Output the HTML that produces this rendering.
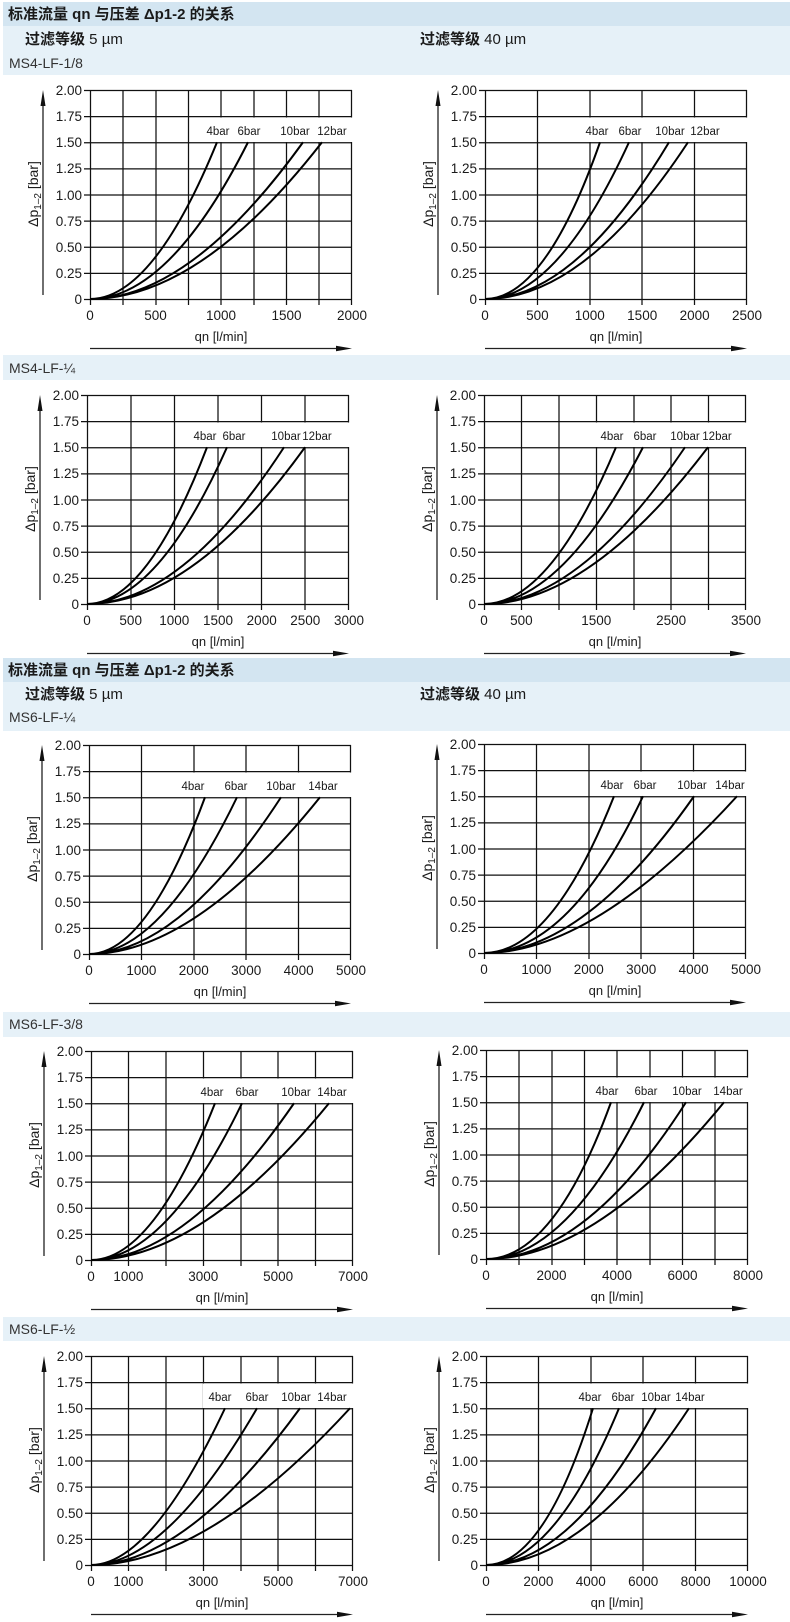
<!DOCTYPE html>
<html><head><meta charset="utf-8">
<style>
html,body{margin:0;padding:0;background:#fff;}
svg{display:block;}
text{font-family:"Liberation Sans","Noto Sans CJK SC",sans-serif;fill:#1a1a1a;}
.yl text{font-size:13.5px;text-anchor:end;}
.xl text{font-size:13.5px;text-anchor:middle;}
.ql{font-size:13px;text-anchor:middle;}
.bl{font-size:11.5px;text-anchor:middle;}
.c{fill:none;stroke:#000;stroke-width:2;}
.grid{fill:none;stroke:#111;stroke-width:1.25;}
.h1{font-size:15px;font-weight:bold;}
.h2{font-size:15px;}
.h3{font-size:14px;fill:#333;}
</style></head>
<body>
<svg width="790" height="1622" viewBox="0 0 790 1622" xmlns="http://www.w3.org/2000/svg">
<defs>
<path id="hz" class="grid" d="M-6 0.5H262M-6 26.6H262M-6 52.75H262M-6 78.9H262M-6 105H262M-6 131.1H262M-6 157.25H262M-6 183.4H262M-6 209.5H262"/>
<g id="g8"><use href="#hz"/><path class="grid" d="M0.5 0V215M33 0V215M66 0V215M98.5 0V215M131 0V215M164 0V215M196.5 0V215M229 0V215M261.5 0V215"/></g>
<g id="g5"><use href="#hz"/><path class="grid" d="M0.5 0V215M52.5 0V215M105 0V215M157 0V215M209.5 0V215M261.5 0V215"/></g>
<g id="g6"><use href="#hz"/><path class="grid" d="M0.5 0V215M44 0V215M87.5 0V215M131 0V215M174.5 0V215M218 0V215M261.5 0V215"/></g>
<g id="g7"><use href="#hz"/><path class="grid" d="M0.5 0V215M37.5 0V215M75 0V215M112.5 0V215M150 0V215M187 0V215M224.5 0V215M261.5 0V215"/></g>
<g id="ax">
<path d="M-47 205V8M0 258.5H250" stroke="#222" stroke-width="1.3" fill="none"/>
<path d="M-47 0L-49.5 16H-44.5Z" fill="#111"/>
<path d="M262 258.5L246 255.8V261.2Z" fill="#111"/>
</g>
</defs>

<rect x="3" y="2" width="787" height="24" fill="#d3e5f1"/>
<rect x="3" y="26" width="787" height="49" fill="#e6f1f8"/>
<text class="h1" x="8" y="19">标准流量 qn 与压差 Δp1-2 的关系</text>
<text class="h2" x="25" y="44"><tspan font-weight="bold">过滤等级</tspan> 5 µm</text>
<text class="h2" x="420" y="44"><tspan font-weight="bold">过滤等级</tspan> 40 µm</text>
<text class="h3" x="9" y="68">MS4-LF-1/8</text>

<rect x="3" y="355" width="787" height="25" fill="#e6f1f8"/>
<text class="h3" x="9" y="373">MS4-LF-¼</text>

<rect x="3" y="658" width="787" height="24" fill="#d3e5f1"/>
<rect x="3" y="682" width="787" height="49" fill="#e6f1f8"/>
<text class="h1" x="8" y="675">标准流量 qn 与压差 Δp1-2 的关系</text>
<text class="h2" x="25" y="699"><tspan font-weight="bold">过滤等级</tspan> 5 µm</text>
<text class="h2" x="420" y="699"><tspan font-weight="bold">过滤等级</tspan> 40 µm</text>
<text class="h3" x="9" y="722">MS6-LF-¼</text>

<rect x="3" y="1012" width="787" height="25" fill="#e6f1f8"/>
<text class="h3" x="9" y="1029">MS6-LF-3/8</text>

<rect x="3" y="1317" width="787" height="24" fill="#e6f1f8"/>
<text class="h3" x="9" y="1334">MS6-LF-½</text>

<g transform="translate(90,90)">
<use href="#g8"/><rect x="100" y="27.5" width="164" height="24.5" fill="#fff"/>
<g class="yl"><text x="-8" y="5">2.00</text><text x="-8" y="31">1.75</text><text x="-8" y="57">1.50</text><text x="-8" y="83">1.25</text><text x="-8" y="110">1.00</text><text x="-8" y="136">0.75</text><text x="-8" y="162">0.50</text><text x="-8" y="188">0.25</text><text x="-8" y="214">0</text></g>
<g class="xl"><text x="0" y="230">0</text><text x="65.5" y="230">500</text><text x="131" y="230">1000</text><text x="196.5" y="230">1500</text><text x="262" y="230">2000</text></g>
<text class="ql" x="131" y="251">qn [l/min]</text>
<use href="#ax"/>
<text transform="translate(-52,104) rotate(-90)" text-anchor="middle" font-size="14">Δp<tspan font-size="10" dy="3">1–2</tspan><tspan dy="-3"> [bar]</tspan></text>
<path class="c" d="M0 209Q63 209 127 52.25M0 209Q79 209 158 52.25M0 209Q100 209 213 52.25M0 209Q110 209 232 52.25"/>
<text class="bl" x="128" y="45">4bar</text><text class="bl" x="159" y="45">6bar</text><text class="bl" x="205" y="45">10bar</text><text class="bl" x="242" y="45">12bar</text>
</g>

<g transform="translate(485,90)">
<use href="#g5"/><rect x="96" y="27.5" width="168" height="24.5" fill="#fff"/>
<g class="yl"><text x="-8" y="5">2.00</text><text x="-8" y="31">1.75</text><text x="-8" y="57">1.50</text><text x="-8" y="83">1.25</text><text x="-8" y="110">1.00</text><text x="-8" y="136">0.75</text><text x="-8" y="162">0.50</text><text x="-8" y="188">0.25</text><text x="-8" y="214">0</text></g>
<g class="xl"><text x="0" y="230">0</text><text x="52.4" y="230">500</text><text x="104.8" y="230">1000</text><text x="157.2" y="230">1500</text><text x="209.6" y="230">2000</text><text x="262" y="230">2500</text></g>
<text class="ql" x="131" y="251">qn [l/min]</text>
<use href="#ax"/>
<text transform="translate(-52,104) rotate(-90)" text-anchor="middle" font-size="14">Δp<tspan font-size="10" dy="3">1–2</tspan><tspan dy="-3"> [bar]</tspan></text>
<path class="c" d="M0 209Q60 209 115 52.25M0 209Q72 209 144 52.25M0 209Q90 209 184 52.25M0 209Q100 209 203 52.25"/>
<text class="bl" x="112" y="45">4bar</text><text class="bl" x="145" y="45">6bar</text><text class="bl" x="185" y="45">10bar</text><text class="bl" x="220" y="45">12bar</text>
</g>

<g transform="translate(87,395)">
<use href="#g6"/><rect x="100" y="27.5" width="164" height="24.5" fill="#fff"/>
<g class="yl"><text x="-8" y="5">2.00</text><text x="-8" y="31">1.75</text><text x="-8" y="57">1.50</text><text x="-8" y="83">1.25</text><text x="-8" y="110">1.00</text><text x="-8" y="136">0.75</text><text x="-8" y="162">0.50</text><text x="-8" y="188">0.25</text><text x="-8" y="214">0</text></g>
<g class="xl"><text x="0" y="230">0</text><text x="43.7" y="230">500</text><text x="87.3" y="230">1000</text><text x="131" y="230">1500</text><text x="174.7" y="230">2000</text><text x="218.3" y="230">2500</text><text x="262" y="230">3000</text></g>
<text class="ql" x="131" y="251">qn [l/min]</text>
<use href="#ax"/>
<text transform="translate(-52,104) rotate(-90)" text-anchor="middle" font-size="14">Δp<tspan font-size="10" dy="3">1–2</tspan><tspan dy="-3"> [bar]</tspan></text>
<path class="c" d="M0 209Q60 209 120 52.25M0 209Q70 209 140 52.25M0 209Q95 209 197 52.25M0 209Q105 209 218 52.25"/>
<text class="bl" x="118" y="45">4bar</text><text class="bl" x="147" y="45">6bar</text><text class="bl" x="199" y="45">10bar</text><text class="bl" x="230" y="45">12bar</text>
</g>

<g transform="translate(484,395)">
<use href="#g7"/><rect x="110" y="27.5" width="154" height="24.5" fill="#fff"/>
<g class="yl"><text x="-8" y="5">2.00</text><text x="-8" y="31">1.75</text><text x="-8" y="57">1.50</text><text x="-8" y="83">1.25</text><text x="-8" y="110">1.00</text><text x="-8" y="136">0.75</text><text x="-8" y="162">0.50</text><text x="-8" y="188">0.25</text><text x="-8" y="214">0</text></g>
<g class="xl"><text x="0" y="230">0</text><text x="37.4" y="230">500</text><text x="112.3" y="230">1500</text><text x="187.1" y="230">2500</text><text x="262" y="230">3500</text></g>
<text class="ql" x="131" y="251">qn [l/min]</text>
<use href="#ax"/>
<text transform="translate(-52,104) rotate(-90)" text-anchor="middle" font-size="14">Δp<tspan font-size="10" dy="3">1–2</tspan><tspan dy="-3"> [bar]</tspan></text>
<path class="c" d="M0 209Q66 209 132 52.25M0 209Q78 209 159 52.25M0 209Q95 209 201 52.25M0 209Q105 209 224 52.25"/>
<text class="bl" x="128" y="45">4bar</text><text class="bl" x="161" y="45">6bar</text><text class="bl" x="201" y="45">10bar</text><text class="bl" x="233" y="45">12bar</text>
</g>

<g transform="translate(89,745)">
<use href="#g5"/><rect x="86" y="27.5" width="178" height="24.5" fill="#fff"/>
<g class="yl"><text x="-8" y="5">2.00</text><text x="-8" y="31">1.75</text><text x="-8" y="57">1.50</text><text x="-8" y="83">1.25</text><text x="-8" y="110">1.00</text><text x="-8" y="136">0.75</text><text x="-8" y="162">0.50</text><text x="-8" y="188">0.25</text><text x="-8" y="214">0</text></g>
<g class="xl"><text x="0" y="230">0</text><text x="52.4" y="230">1000</text><text x="104.8" y="230">2000</text><text x="157.2" y="230">3000</text><text x="209.6" y="230">4000</text><text x="262" y="230">5000</text></g>
<text class="ql" x="131" y="251">qn [l/min]</text>
<use href="#ax"/>
<text transform="translate(-52,104) rotate(-90)" text-anchor="middle" font-size="14">Δp<tspan font-size="10" dy="3">1–2</tspan><tspan dy="-3"> [bar]</tspan></text>
<path class="c" d="M0 209Q58 209 116 52.25M0 209Q72 209 148 52.25M0 209Q90 209 192 52.25M0 209Q105 209 231 52.25"/>
<text class="bl" x="104" y="45">4bar</text><text class="bl" x="147" y="45">6bar</text><text class="bl" x="192" y="45">10bar</text><text class="bl" x="234" y="45">14bar</text>
</g>

<g transform="translate(484,744)">
<use href="#g5"/><rect x="112" y="27.5" width="152" height="24.5" fill="#fff"/>
<g class="yl"><text x="-8" y="5">2.00</text><text x="-8" y="31">1.75</text><text x="-8" y="57">1.50</text><text x="-8" y="83">1.25</text><text x="-8" y="110">1.00</text><text x="-8" y="136">0.75</text><text x="-8" y="162">0.50</text><text x="-8" y="188">0.25</text><text x="-8" y="214">0</text></g>
<g class="xl"><text x="0" y="230">0</text><text x="52.4" y="230">1000</text><text x="104.8" y="230">2000</text><text x="157.2" y="230">3000</text><text x="209.6" y="230">4000</text><text x="262" y="230">5000</text></g>
<text class="ql" x="131" y="251">qn [l/min]</text>
<use href="#ax"/>
<text transform="translate(-52,104) rotate(-90)" text-anchor="middle" font-size="14">Δp<tspan font-size="10" dy="3">1–2</tspan><tspan dy="-3"> [bar]</tspan></text>
<path class="c" d="M0 209Q68 209 130 52.25M0 209Q85 209 159 52.25M0 209Q100 209 210 52.25M0 209Q110 209 253 52.25"/>
<text class="bl" x="128" y="45">4bar</text><text class="bl" x="161" y="45">6bar</text><text class="bl" x="208" y="45">10bar</text><text class="bl" x="246" y="45">14bar</text>
</g>

<g transform="translate(91,1051)">
<use href="#g7"/><rect x="104" y="27.5" width="160" height="24.5" fill="#fff"/>
<g class="yl"><text x="-8" y="5">2.00</text><text x="-8" y="31">1.75</text><text x="-8" y="57">1.50</text><text x="-8" y="83">1.25</text><text x="-8" y="110">1.00</text><text x="-8" y="136">0.75</text><text x="-8" y="162">0.50</text><text x="-8" y="188">0.25</text><text x="-8" y="214">0</text></g>
<g class="xl"><text x="0" y="230">0</text><text x="37.4" y="230">1000</text><text x="112.3" y="230">3000</text><text x="187.1" y="230">5000</text><text x="262" y="230">7000</text></g>
<text class="ql" x="131" y="251">qn [l/min]</text>
<use href="#ax"/>
<text transform="translate(-52,104) rotate(-90)" text-anchor="middle" font-size="14">Δp<tspan font-size="10" dy="3">1–2</tspan><tspan dy="-3"> [bar]</tspan></text>
<path class="c" d="M0 209Q62 209 124 52.25M0 209Q75 209 151 52.25M0 209Q95 209 203 52.25M0 209Q110 209 238 52.25"/>
<text class="bl" x="121" y="45">4bar</text><text class="bl" x="156" y="45">6bar</text><text class="bl" x="205" y="45">10bar</text><text class="bl" x="241" y="45">14bar</text>
</g>

<g transform="translate(486,1050)">
<use href="#g8"/><rect x="104" y="27.5" width="160" height="24.5" fill="#fff"/>
<g class="yl"><text x="-8" y="5">2.00</text><text x="-8" y="31">1.75</text><text x="-8" y="57">1.50</text><text x="-8" y="83">1.25</text><text x="-8" y="110">1.00</text><text x="-8" y="136">0.75</text><text x="-8" y="162">0.50</text><text x="-8" y="188">0.25</text><text x="-8" y="214">0</text></g>
<g class="xl"><text x="0" y="230">0</text><text x="65.5" y="230">2000</text><text x="131" y="230">4000</text><text x="196.5" y="230">6000</text><text x="262" y="230">8000</text></g>
<text class="ql" x="131" y="251">qn [l/min]</text>
<use href="#ax"/>
<text transform="translate(-52,104) rotate(-90)" text-anchor="middle" font-size="14">Δp<tspan font-size="10" dy="3">1–2</tspan><tspan dy="-3"> [bar]</tspan></text>
<path class="c" d="M0 209Q68 209 125 52.25M0 209Q80 209 158 52.25M0 209Q100 209 200 52.25M0 209Q110 209 238 52.25"/>
<text class="bl" x="121" y="45">4bar</text><text class="bl" x="160" y="45">6bar</text><text class="bl" x="201" y="45">10bar</text><text class="bl" x="242" y="45">14bar</text>
</g>

<g transform="translate(91,1356)">
<use href="#g7"/><rect x="112" y="27.5" width="152" height="24.5" fill="#fff"/>
<g class="yl"><text x="-8" y="5">2.00</text><text x="-8" y="31">1.75</text><text x="-8" y="57">1.50</text><text x="-8" y="83">1.25</text><text x="-8" y="110">1.00</text><text x="-8" y="136">0.75</text><text x="-8" y="162">0.50</text><text x="-8" y="188">0.25</text><text x="-8" y="214">0</text></g>
<g class="xl"><text x="0" y="230">0</text><text x="37.4" y="230">1000</text><text x="112.3" y="230">3000</text><text x="187.1" y="230">5000</text><text x="262" y="230">7000</text></g>
<text class="ql" x="131" y="251">qn [l/min]</text>
<use href="#ax"/>
<text transform="translate(-52,104) rotate(-90)" text-anchor="middle" font-size="14">Δp<tspan font-size="10" dy="3">1–2</tspan><tspan dy="-3"> [bar]</tspan></text>
<path class="c" d="M0 209Q60 209 134 52.25M0 209Q75 209 166 52.25M0 209Q95 209 209 52.25M0 209Q115 209 259 52.25"/>
<text class="bl" x="129" y="45">4bar</text><text class="bl" x="166" y="45">6bar</text><text class="bl" x="205" y="45">10bar</text><text class="bl" x="241" y="45">14bar</text>
</g>

<g transform="translate(486,1356)">
<use href="#g5"/><rect x="88" y="27.5" width="176" height="24.5" fill="#fff"/>
<g class="yl"><text x="-8" y="5">2.00</text><text x="-8" y="31">1.75</text><text x="-8" y="57">1.50</text><text x="-8" y="83">1.25</text><text x="-8" y="110">1.00</text><text x="-8" y="136">0.75</text><text x="-8" y="162">0.50</text><text x="-8" y="188">0.25</text><text x="-8" y="214">0</text></g>
<g class="xl"><text x="0" y="230">0</text><text x="52.4" y="230">2000</text><text x="104.8" y="230">4000</text><text x="157.2" y="230">6000</text><text x="209.6" y="230">8000</text><text x="262" y="230">10000</text></g>
<text class="ql" x="131" y="251">qn [l/min]</text>
<use href="#ax"/>
<text transform="translate(-52,104) rotate(-90)" text-anchor="middle" font-size="14">Δp<tspan font-size="10" dy="3">1–2</tspan><tspan dy="-3"> [bar]</tspan></text>
<path class="c" d="M0 209Q58 209 107 52.25M0 209Q68 209 133 52.25M0 209Q85 209 170 52.25M0 209Q100 209 203 52.25"/>
<text class="bl" x="104" y="45">4bar</text><text class="bl" x="137" y="45">6bar</text><text class="bl" x="170" y="45">10bar</text><text class="bl" x="204" y="45">14bar</text>
</g>
</svg>
</body></html>
